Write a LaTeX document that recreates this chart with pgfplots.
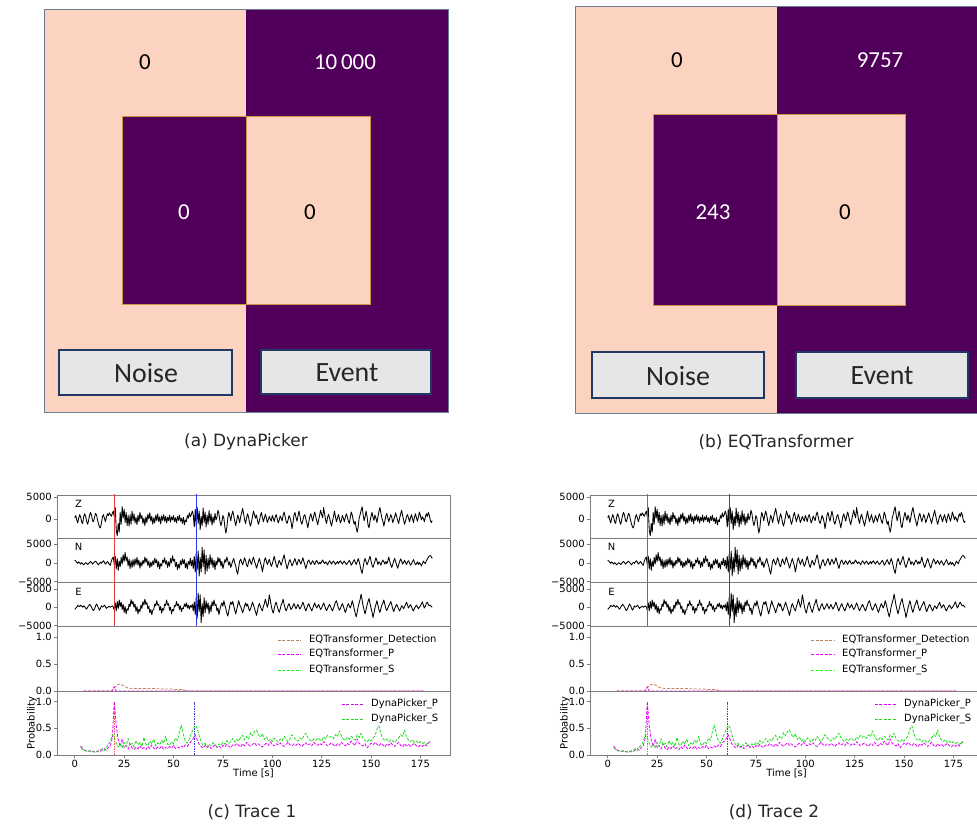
\documentclass[border=0pt]{standalone}
\usepackage{pgfplots}
\pgfplotsset{compat=1.18}
\usepackage{pgfplotstable}
\usepackage{fontspec}
\setmainfont{DejaVu Sans}
\newfontfamily\calibri{Carlito}
% always emit stroke / fill colours (no "already set" shortcut)
\makeatletter
\let\orig@pgfsetstrokecolor\pgfsetstrokecolor
\def\pgfsetstrokecolor#1{\global\let\pgf@strokecolor@global\relax\orig@pgfsetstrokecolor{#1}}
\let\orig@pgfsetfillcolor\pgfsetfillcolor
\def\pgfsetfillcolor#1{\global\let\pgf@fillcolor@global\relax\orig@pgfsetfillcolor{#1}}
\makeatother
\definecolor{cmpink}{RGB}{252,211,193}
\definecolor{cmpurple}{RGB}{80,0,90}
\definecolor{btnfill}{RGB}{231,230,230}
\definecolor{btnedge}{RGB}{31,56,100}
\definecolor{inedge}{RGB}{205,150,70}
\definecolor{outedge}{RGB}{110,125,150}
\definecolor{spine}{RGB}{125,125,125}

% Z component (x 1000 counts), t = 0, 0.5, ..., 181 s
\pgfplotstableread[header=false,row sep=\\]{
0.3\\0.8\\-0.2\\-0.9\\0.2\\1.0\\0.4\\-0.7\\-1.0\\0.5\\
1.2\\0.6\\-0.5\\-1.2\\-0.3\\0.9\\1.5\\0.8\\-0.4\\-0.6\\
0.4\\1.3\\0.9\\-0.2\\-1.1\\-1.8\\-2.0\\-0.9\\0.5\\1.0\\
0.2\\-0.6\\0.3\\1.2\\0.8\\1.4\\1.0\\0.6\\1.3\\1.8\\
0.5\\2.6\\-2.5\\-3.8\\-1.0\\-3.0\\1.5\\-1.2\\2.8\\0.2\\
2.2\\-0.8\\1.5\\-1.5\\0.8\\-1.6\\1.0\\-1.2\\1.8\\-0.4\\
1.2\\-0.9\\0.4\\-1.3\\0.9\\-0.6\\1.5\\0.1\\0.8\\-1.0\\
0.2\\-1.5\\0.5\\-0.8\\1.1\\0.0\\1.4\\-0.5\\0.6\\-1.2\\
0.3\\-0.9\\0.9\\-0.4\\1.2\\-0.6\\0.5\\-1.1\\0.7\\-0.3\\
1.0\\-0.5\\0.6\\-0.9\\0.4\\-0.4\\0.9\\-0.7\\0.5\\-0.2\\
0.8\\-0.6\\0.3\\-0.9\\0.6\\-0.3\\0.9\\-0.5\\0.2\\-1.0\\
0.4\\-1.3\\-0.2\\-0.6\\0.8\\0.2\\1.4\\0.5\\1.0\\1.8\\
1.0\\-1.8\\2.2\\-1.6\\2.6\\-1.0\\1.8\\-2.4\\0.6\\-1.5\\
2.5\\-0.8\\1.6\\-1.8\\0.9\\-1.2\\1.9\\-0.6\\1.2\\-1.4\\
0.5\\-0.9\\1.3\\-0.2\\0.4\\2.0\\1.2\\-0.5\\-1.5\\-0.6\\
0.8\\0.2\\-1.8\\-3.2\\-2.0\\0.3\\1.5\\0.6\\-0.4\\1.0\\
1.8\\0.8\\-0.5\\-1.5\\-0.4\\0.9\\0.2\\-0.8\\0.5\\1.4\\
2.4\\1.2\\-0.2\\-1.0\\0.3\\1.2\\0.4\\-0.9\\-1.6\\-0.6\\
0.6\\1.8\\1.0\\0.2\\0.9\\-0.3\\-1.2\\-0.4\\0.8\\1.5\\
0.4\\-0.6\\0.2\\1.1\\0.3\\-0.8\\-0.2\\0.6\\0.0\\-0.5\\
0.8\\0.2\\-0.6\\0.5\\1.0\\0.1\\-0.9\\-0.3\\0.7\\0.2\\
-0.4\\0.9\\1.6\\0.6\\-0.5\\-1.0\\-0.2\\0.8\\0.3\\-0.6\\
-2.2\\-0.8\\0.9\\1.5\\0.4\\-0.5\\0.6\\1.8\\0.8\\-0.6\\
-1.2\\-0.3\\0.7\\1.0\\0.0\\-0.9\\-2.0\\-0.7\\0.5\\1.2\\
0.3\\-0.5\\0.8\\1.6\\0.6\\-0.4\\-1.3\\-0.2\\0.9\\2.0\\
1.0\\0.3\\2.6\\1.2\\-0.2\\-1.0\\0.4\\1.1\\0.2\\-0.7\\
-1.6\\-0.5\\0.6\\1.8\\0.5\\-0.6\\0.2\\1.0\\0.1\\-0.9\\
-0.3\\0.8\\0.2\\-0.6\\0.4\\1.2\\0.5\\-0.4\\-1.0\\0.3\\
1.6\\0.9\\-0.3\\-1.2\\-0.5\\-2.0\\-3.0\\-1.8\\0.2\\1.0\\
2.0\\2.8\\1.0\\-0.4\\0.5\\1.8\\0.6\\-1.4\\-2.0\\-0.5\\
0.6\\1.5\\0.4\\-0.3\\0.9\\0.2\\-0.8\\0.5\\1.7\\2.6\\
1.4\\0.2\\-0.5\\-1.6\\-0.5\\0.7\\1.3\\0.3\\-0.6\\0.2\\
1.0\\0.4\\-0.8\\-0.2\\0.6\\1.4\\0.5\\-0.3\\-1.0\\0.2\\
1.1\\2.0\\0.8\\-0.2\\-1.2\\-0.4\\0.6\\1.0\\0.2\\-0.6\\
0.3\\1.0\\0.1\\-0.8\\0.4\\1.2\\0.3\\-0.5\\0.4\\1.6\\
0.8\\-0.2\\0.5\\0.1\\-0.6\\0.4\\1.2\\0.6\\1.5\\0.9\\
-0.2\\-0.8\\-0.4\\
}\Zdat

% N component
\pgfplotstableread[header=false,row sep=\\]{
0.8\\0.5\\0.2\\-0.1\\0.3\\0.0\\-0.3\\0.1\\-0.2\\-0.5\\
-0.2\\0.1\\-0.1\\-0.4\\-0.2\\0.2\\0.4\\0.1\\-0.3\\0.0\\
0.3\\0.5\\0.2\\-0.2\\-0.5\\-0.1\\0.2\\-0.1\\0.3\\0.6\\
0.2\\-0.3\\0.0\\0.4\\0.1\\-0.4\\-0.6\\0.5\\1.2\\1.6\\
-0.5\\1.8\\-1.6\\1.2\\-2.0\\0.5\\-1.0\\1.5\\-0.3\\2.2\\
0.4\\2.8\\0.6\\1.6\\-0.8\\1.0\\-1.5\\0.6\\-1.2\\0.9\\
-0.9\\1.1\\-0.4\\1.5\\-0.6\\0.8\\-1.4\\0.3\\-0.8\\0.7\\
-0.2\\1.6\\0.2\\1.2\\-0.7\\0.5\\-1.3\\0.2\\-0.9\\0.6\\
-0.5\\1.3\\0.0\\0.9\\-1.1\\0.4\\-1.6\\-0.2\\-0.8\\0.8\\
0.1\\1.4\\-0.3\\0.6\\-1.2\\0.3\\-0.9\\1.2\\0.0\\1.9\\
0.5\\1.0\\-1.0\\0.2\\-1.8\\-0.3\\-1.4\\0.6\\-0.5\\1.1\\
-0.2\\0.9\\-1.3\\0.0\\-1.6\\0.4\\-0.4\\1.3\\-0.8\\0.8\\
-1.5\\1.8\\-2.5\\2.6\\-1.8\\3.2\\-3.5\\1.5\\-2.4\\4.2\\
-1.0\\3.5\\-3.0\\2.0\\-2.2\\1.2\\-1.5\\2.2\\-0.5\\1.4\\
-1.2\\0.8\\-1.8\\0.5\\-0.6\\1.5\\0.2\\1.2\\-0.8\\0.4\\
-1.5\\-0.4\\0.9\\0.2\\1.6\\0.6\\-0.6\\0.3\\-1.2\\-0.3\\
0.6\\1.2\\0.0\\-0.8\\-2.2\\-3.0\\-1.2\\0.5\\1.0\\0.2\\
-0.5\\0.4\\1.4\\0.6\\-0.6\\-1.0\\0.3\\1.1\\0.2\\-0.4\\
0.8\\1.6\\0.4\\-0.3\\-1.4\\-0.6\\0.5\\1.2\\0.1\\-0.8\\
-2.4\\-1.0\\0.6\\1.4\\0.5\\-0.4\\0.3\\1.0\\0.0\\-0.9\\
-0.3\\0.8\\1.8\\0.6\\-0.5\\-1.2\\-0.2\\0.7\\0.1\\-0.6\\
0.3\\1.3\\2.2\\0.9\\-0.4\\-1.6\\-0.6\\0.4\\0.9\\0.0\\
-0.8\\-0.2\\0.6\\1.2\\0.2\\-0.6\\0.4\\1.0\\0.3\\-0.3\\
0.5\\1.4\\0.4\\-0.5\\-1.5\\-0.5\\0.4\\0.8\\0.1\\-0.4\\
0.2\\0.6\\0.0\\-0.4\\0.3\\0.7\\0.1\\-0.3\\0.2\\-0.2\\
0.4\\0.8\\0.2\\-0.2\\0.3\\0.0\\-0.5\\0.1\\0.6\\0.2\\
-0.3\\0.2\\0.5\\0.1\\-0.4\\0.0\\0.4\\-0.2\\0.3\\0.6\\
0.1\\-0.3\\0.2\\0.5\\0.0\\-0.4\\-0.1\\0.3\\0.7\\0.2\\
-0.6\\-0.2\\0.4\\0.9\\0.2\\-0.4\\0.3\\1.2\\0.4\\-0.8\\
-2.0\\-2.8\\-1.2\\0.4\\1.2\\0.3\\-0.5\\0.2\\1.0\\1.8\\
0.6\\-0.6\\-1.2\\-0.3\\0.5\\1.4\\0.6\\-0.4\\0.3\\0.0\\
-0.6\\0.2\\0.8\\0.3\\-0.3\\0.4\\-0.2\\0.5\\1.6\\0.4\\
-0.5\\-1.2\\-0.4\\0.6\\1.2\\0.3\\-0.6\\-1.4\\-0.5\\0.4\\
1.1\\0.5\\-0.3\\0.2\\0.7\\0.1\\-0.4\\0.3\\0.6\\0.0\\
-0.6\\-0.2\\0.4\\0.9\\0.2\\-0.5\\-0.2\\0.3\\-0.4\\0.1\\
-0.3\\-0.8\\-0.2\\0.5\\0.1\\-0.2\\0.6\\1.0\\1.5\\1.9\\
2.0\\1.7\\1.2\\
}\Ndat

% E component
\pgfplotstableread[header=false,row sep=\\]{
-0.6\\-0.2\\0.0\\0.5\\0.3\\0.2\\0.6\\0.3\\0.0\\0.4\\
0.2\\-0.2\\-0.5\\0.0\\0.4\\0.8\\0.5\\0.0\\-0.6\\-0.9\\
-0.4\\0.3\\0.9\\0.5\\-0.2\\-0.8\\-0.3\\0.4\\0.1\\0.2\\
0.6\\0.2\\-0.3\\0.0\\0.1\\0.3\\0.0\\0.2\\0.4\\0.1\\
-0.8\\1.2\\-1.0\\1.6\\-0.4\\2.0\\0.2\\1.4\\-0.6\\0.8\\
-1.4\\0.2\\-1.8\\-0.4\\-0.8\\0.9\\0.2\\2.1\\0.9\\1.6\\
0.0\\0.9\\-1.1\\0.2\\-1.8\\-0.5\\-1.2\\0.6\\-0.3\\1.5\\
0.6\\2.2\\0.8\\1.3\\-0.4\\0.3\\-1.5\\-0.6\\-2.0\\-0.8\\
-0.6\\0.9\\0.4\\1.8\\0.6\\0.8\\-0.8\\0.2\\-1.6\\-0.3\\
-0.8\\0.8\\0.5\\2.0\\0.6\\1.0\\-0.8\\0.0\\-1.8\\-0.6\\
-1.0\\0.5\\0.3\\1.6\\0.4\\0.9\\-0.6\\0.4\\-1.2\\-0.2\\
-0.4\\0.9\\0.2\\1.2\\-0.2\\0.6\\-0.5\\0.5\\0.0\\0.8\\
-1.0\\1.5\\-2.0\\2.8\\-3.0\\3.8\\-1.2\\3.4\\-4.2\\1.0\\
-2.5\\2.6\\-1.5\\1.8\\-0.5\\1.2\\-1.8\\0.6\\-1.2\\1.5\\
0.4\\2.0\\0.5\\0.8\\-1.0\\-0.2\\-2.0\\-0.6\\0.5\\1.2\\
0.3\\1.8\\0.6\\-0.4\\-1.6\\-2.4\\-1.0\\0.5\\1.4\\0.8\\
1.6\\0.4\\-0.8\\-1.8\\-0.6\\0.6\\1.8\\0.7\\0.2\\-0.6\\
-1.5\\-0.6\\0.4\\1.2\\0.3\\0.9\\-0.2\\-1.0\\-0.4\\0.5\\
1.4\\0.6\\-0.3\\-1.2\\-2.2\\-1.0\\0.4\\1.0\\0.2\\-0.5\\
-1.0\\0.2\\1.0\\2.2\\1.2\\0.0\\1.0\\3.4\\2.0\\0.4\\
-0.8\\-1.6\\-0.4\\0.8\\1.4\\0.3\\-0.6\\-1.4\\-0.5\\0.6\\
1.2\\2.2\\0.8\\-0.2\\-1.0\\-0.3\\0.5\\1.0\\0.2\\-0.6\\
-0.2\\0.4\\1.0\\0.3\\-0.4\\0.2\\0.8\\0.1\\-0.5\\0.0\\
0.6\\1.4\\0.6\\-0.3\\-1.0\\-0.2\\0.5\\1.0\\0.2\\-0.4\\
-1.0\\-0.3\\0.5\\1.2\\0.4\\-0.2\\0.3\\0.8\\0.0\\-0.6\\
-0.2\\0.5\\1.2\\0.5\\-0.4\\-0.9\\-0.3\\0.3\\0.8\\0.2\\
-0.5\\-1.0\\-0.2\\0.6\\1.4\\1.8\\0.8\\-0.2\\-0.8\\-0.3\\
0.4\\1.0\\0.3\\-0.6\\-1.4\\-0.6\\0.3\\1.0\\0.4\\-0.2\\
0.6\\1.8\\0.8\\-0.4\\-1.6\\-2.6\\-1.4\\0.2\\1.2\\2.2\\
3.6\\2.0\\0.4\\-0.8\\-1.8\\-0.6\\0.6\\1.6\\2.4\\1.0\\
-0.2\\-1.2\\-2.8\\-1.6\\-0.2\\0.8\\1.8\\0.6\\-0.6\\-1.4\\
-0.4\\0.6\\1.2\\2.0\\0.8\\-0.3\\-0.9\\-0.2\\0.4\\0.9\\
1.6\\0.7\\-0.4\\-1.2\\-0.4\\0.3\\0.8\\0.2\\-0.5\\-1.0\\
-0.3\\0.4\\0.1\\-0.4\\0.2\\0.8\\1.4\\0.6\\-0.2\\0.3\\
0.7\\0.2\\-0.6\\-1.0\\-0.3\\0.2\\0.6\\0.1\\-0.4\\0.0\\
0.4\\0.9\\1.5\\0.6\\-0.2\\0.3\\1.0\\1.4\\0.8\\0.4\\
0.6\\0.2\\0.0\\
}\Edat

% DynaPicker P probability, t = 3, 4, ..., 180 s
\pgfplotstableread[header=false,row sep=\\]{
0.17\\0.12\\0.09\\0.08\\0.07\\0.08\\0.06\\0.07\\0.06\\0.08\\
0.07\\0.10\\0.12\\0.09\\0.14\\0.18\\0.32\\1.00\\0.55\\0.28\\
0.16\\0.30\\0.14\\0.18\\0.11\\0.21\\0.13\\0.10\\0.15\\0.12\\
0.17\\0.11\\0.14\\0.10\\0.16\\0.12\\0.19\\0.13\\0.11\\0.15\\
0.12\\0.17\\0.11\\0.14\\0.12\\0.16\\0.13\\0.18\\0.12\\0.15\\
0.13\\0.17\\0.14\\0.19\\0.16\\0.22\\0.26\\0.31\\0.38\\0.28\\
0.20\\0.16\\0.13\\0.18\\0.14\\0.17\\0.12\\0.16\\0.19\\0.14\\
0.17\\0.13\\0.18\\0.15\\0.20\\0.16\\0.14\\0.19\\0.17\\0.22\\
0.18\\0.15\\0.21\\0.17\\0.24\\0.19\\0.16\\0.20\\0.23\\0.18\\
0.21\\0.17\\0.15\\0.19\\0.22\\0.18\\0.25\\0.20\\0.17\\0.21\\
0.19\\0.23\\0.18\\0.16\\0.20\\0.24\\0.19\\0.17\\0.21\\0.18\\
0.22\\0.19\\0.16\\0.20\\0.23\\0.18\\0.21\\0.17\\0.24\\0.20\\
0.18\\0.22\\0.19\\0.25\\0.21\\0.17\\0.20\\0.23\\0.19\\0.16\\
0.21\\0.18\\0.24\\0.20\\0.17\\0.22\\0.19\\0.26\\0.21\\0.18\\
0.30\\0.22\\0.19\\0.17\\0.21\\0.13\\0.18\\0.22\\0.19\\0.24\\
0.20\\0.17\\0.22\\0.19\\0.15\\0.21\\0.18\\0.23\\0.19\\0.16\\
0.20\\0.24\\0.18\\0.15\\0.21\\0.17\\0.20\\0.16\\0.19\\0.22\\
0.17\\0.15\\0.19\\0.16\\0.20\\0.17\\0.22\\0.27\\
}\DPdat

% DynaPicker S probability, t = 3, 4, ..., 180 s
\pgfplotstableread[header=false,row sep=\\]{
0.14\\0.10\\0.08\\0.07\\0.08\\0.06\\0.07\\0.05\\0.07\\0.06\\
0.09\\0.12\\0.08\\0.15\\0.19\\0.26\\0.38\\0.33\\0.22\\0.15\\
0.20\\0.13\\0.24\\0.16\\0.31\\0.18\\0.22\\0.15\\0.27\\0.19\\
0.24\\0.16\\0.33\\0.20\\0.18\\0.26\\0.21\\0.30\\0.17\\0.23\\
0.19\\0.28\\0.22\\0.35\\0.20\\0.18\\0.25\\0.21\\0.32\\0.27\\
0.45\\0.56\\0.38\\0.26\\0.22\\0.30\\0.40\\0.48\\0.56\\0.50\\
0.36\\0.25\\0.18\\0.22\\0.15\\0.20\\0.17\\0.23\\0.19\\0.16\\
0.21\\0.18\\0.24\\0.20\\0.27\\0.22\\0.25\\0.31\\0.24\\0.29\\
0.26\\0.33\\0.37\\0.28\\0.35\\0.30\\0.42\\0.36\\0.44\\0.47\\
0.38\\0.33\\0.40\\0.29\\0.34\\0.26\\0.30\\0.25\\0.32\\0.28\\
0.24\\0.30\\0.27\\0.35\\0.29\\0.25\\0.31\\0.38\\0.33\\0.28\\
0.26\\0.32\\0.29\\0.36\\0.41\\0.33\\0.28\\0.25\\0.30\\0.27\\
0.32\\0.29\\0.26\\0.34\\0.30\\0.37\\0.33\\0.35\\0.31\\0.38\\
0.34\\0.45\\0.36\\0.30\\0.27\\0.33\\0.29\\0.35\\0.31\\0.28\\
0.38\\0.33\\0.41\\0.30\\0.27\\0.24\\0.29\\0.26\\0.31\\0.36\\
0.48\\0.55\\0.40\\0.31\\0.27\\0.30\\0.25\\0.29\\0.26\\0.23\\
0.28\\0.32\\0.38\\0.35\\0.47\\0.34\\0.28\\0.25\\0.29\\0.23\\
0.26\\0.22\\0.25\\0.21\\0.24\\0.20\\0.22\\0.25\\
}\DSdat

\newcommand{\tf}{\fontsize{10}{12}\selectfont}
\tikzset{lgt/.style={anchor=west, font=\tf, inner sep=0pt}}

\pgfplotsset{
  trace/.style={
    scale only axis, width=393bp, xmin=-9, xmax=190,
    anchor=south west, no markers,
    axis line style={spine, line width=0.7bp},
    tick style={spine, line width=0.6bp},
    tick align=outside, major tick length=3.5bp, tick pos=left,
    xtick=\empty,
    yticklabel style={font=\tf, inner sep=1.5bp},
    xticklabel style={font=\tf, inner sep=1.5bp},
    every axis plot/.append style={line join=round},
  },
  wave/.style={draw=black, line width=0.85bp},
  pk/.style={line width=1.1bp},
  prob/.style={ymin=0, ymax=1.2, ytick={0,0.5,1}, yticklabels={0.0,0.5,1.0}, clip=false},
  dsh/.style={line width=0.8bp, dash pattern=on 3bp off 1.5bp},
  dot/.style={line width=0.8bp, dash pattern=on 1.5bp off 1bp},
}

% #1 = x position of the panel, #2 = digit making the panel's colours unique
\newcommand{\ampax}[2]{%
\begin{axis}[trace, at={(#1bp,290bp)}, height=43bp, ymin=-4300, ymax=5450,
  ytick={0,5000}, yticklabels={0,5000}]
  \addplot[wave] table[x index=0, y index=0, x expr=\coordindex*0.5, y expr=\thisrowno{0}*1000] {\Zdat};
  \addplot[pk, draw={rgb,255:red,24#2;green,60;blue,60}] coordinates {(20,-9000) (20,9000)};
  \addplot[pk, draw={rgb,255:red,40;green,60;blue,25#2}] coordinates {(61.5,-9000) (61.5,9000)};
  \node[font=\tf] at (rel axis cs:0.055,0.8) {Z};
\end{axis}
\begin{axis}[trace, at={(#1bp,246bp)}, height=44bp, ymin=-5100, ymax=6700,
  ytick={-5000,0,5000}, yticklabels={−5000,0,5000}]
  \addplot[wave] table[x index=0, y index=0, x expr=\coordindex*0.5, y expr=\thisrowno{0}*1000] {\Ndat};
  \addplot[pk, draw={rgb,255:red,23#2;green,60;blue,60}] coordinates {(20,-9000) (20,9000)};
  \addplot[pk, draw={rgb,255:red,40;green,60;blue,24#2}] coordinates {(61.5,-9000) (61.5,9000)};
  \node[font=\tf] at (rel axis cs:0.055,0.8) {N};
  \node[font=\tf, rotate=90] at (rel axis cs:-0.109,0.43) {Amplitude};
\end{axis}
\begin{axis}[trace, at={(#1bp,202bp)}, height=44bp, ymin=-5100, ymax=6900,
  ytick={-5000,0,5000}, yticklabels={−5000,0,5000}]
  \addplot[wave] table[x index=0, y index=0, x expr=\coordindex*0.5, y expr=\thisrowno{0}*1000] {\Edat};
  \addplot[pk, draw={rgb,255:red,22#2;green,60;blue,60}] coordinates {(20,-9000) (20,9000)};
  \addplot[pk, draw={rgb,255:red,40;green,60;blue,23#2}] coordinates {(61.5,-9000) (61.5,9000)};
  \node[font=\tf] at (rel axis cs:0.055,0.77) {E};
\end{axis}}

\newcommand{\eqtax}[2]{%
\begin{axis}[trace, prob, at={(#1bp,137bp)}, height=65bp]
  \addplot[dsh, draw={rgb,255:red,19#2;green,130;blue,95}] coordinates {(4.5,0) (18,0) (19,0.01) (20,0.06) (21,0.10)
    (22,0.12) (23,0.13) (24,0.11) (25,0.09) (26,0.07) (27,0.055) (28,0.05) (30,0.045)
    (35,0.045) (40,0.045) (43,0.04) (46,0.035) (48,0.04) (50,0.03) (53,0.025)
    (55,0.025) (56,0.01) (57,0) (176.5,0)};
  \addplot[dsh, draw={rgb,255:red,25#2;green,0;blue,255}] coordinates {(4.5,0) (19,0) (19.5,0.04) (20,0.08) (20.5,0.04) (21,0) (176.5,0)};
  \addplot[dsh, draw={rgb,255:red,30;green,23#2;blue,30}] coordinates {(4.5,0) (176.5,0)};
  % legend
  \addplot[dsh, draw={rgb,255:red,18#2;green,130;blue,95}] coordinates {(102.9,0.942) (114.6,0.942)};
  \addplot[dsh, draw={rgb,255:red,24#2;green,0;blue,255}] coordinates {(102.9,0.683) (114.6,0.683)};
  \addplot[dsh, draw={rgb,255:red,30;green,24#2;blue,30}] coordinates {(102.9,0.388) (114.6,0.388)};
  \node[lgt] at (axis cs:118.6,0.942) {EQTransformer\_Detection};
  \node[lgt] at (axis cs:118.6,0.683) {EQTransformer\_P};
  \node[lgt] at (axis cs:118.6,0.388) {EQTransformer\_S};
\end{axis}}

% pick markers and legend of the DynaPicker subplot (drawn before its data)
\newcommand{\dynadeco}[2]{%
\begin{axis}[trace, prob, hide axis, at={(#1bp,73bp)}, height=64bp]
  \addplot[dot, draw={rgb,255:red,25#2;green,90;blue,90}] coordinates {(20,0) (20,1)};
  \addplot[dot, draw={rgb,255:red,60;green,60;blue,22#2}] coordinates {(60.5,0) (60.5,1)};
  \addplot[dsh, draw={rgb,255:red,22#2;green,0;blue,255}] coordinates {(135.3,0.956) (145.9,0.956)};
  \addplot[dsh, draw={rgb,255:red,30;green,21#2;blue,30}] coordinates {(135.3,0.675) (145.9,0.675)};
  \node[lgt] at (axis cs:150,0.956) {DynaPicker\_P};
  \node[lgt] at (axis cs:150,0.675) {DynaPicker\_S};
\end{axis}}

\newcommand{\dynadata}[2]{%
\begin{axis}[trace, prob, at={(#1bp,73bp)}, height=64bp,
  xtick={0,25,50,75,100,125,150,175}, xticklabels={0,25,50,75,100,125,150,175}]
  \addplot[dsh, draw={rgb,255:red,23#2;green,0;blue,255}] table[x index=0, y index=0, x expr=\coordindex+3] {\DPdat};
  \addplot[dsh, draw={rgb,255:red,30;green,22#2;blue,30}] table[x index=0, y index=0, x expr=\coordindex+3] {\DSdat};
  \node[font=\tf, rotate=90] at (rel axis cs:-0.064,0.5) {Probability};
  \node[font=\tf] at (rel axis cs:0.5,-0.28) {Time [s]};
\end{axis}}

\begin{document}
\begin{tikzpicture}[x=1bp,y=1bp]
\path[use as bounding box] (0,0) rectangle (977,828);
\begin{axis}[at={(0bp,0bp)}, anchor=south west, scale only axis, width=977bp, height=828bp,
  xmin=0, xmax=977, ymin=0, ymax=828, y dir=reverse, hide axis, clip=false, no markers]
  % panel (a)
  \addplot[fill=cmpink, draw=none] coordinates {(44,9) (246,9) (246,412) (44,412)} -- cycle;
  \addplot[fill=cmpurple, draw=none] coordinates {(246,9) (448,9) (448,412) (246,412)} -- cycle;
  \addplot[draw=outedge, line width=0.9bp] coordinates {(44,9) (448,9) (448,412) (44,412)} -- cycle;
  \addplot[fill=cmpurple, draw=inedge, line width=0.8bp] coordinates {(122,116) (246,116) (246,304) (122,304)} -- cycle;
  \addplot[fill=cmpink, draw=inedge, line width=0.8bp] coordinates {(246,116) (370,116) (370,304) (246,304)} -- cycle;
  \addplot[fill=btnfill, draw=btnedge, line width=2.8bp] coordinates {(59,350) (232,350) (232,395) (59,395)} -- cycle;
  \addplot[fill=btnfill, draw=btnedge, line width=2.8bp] coordinates {(261,350) (431,350) (431,394) (261,394)} -- cycle;
  \node[font=\calibri\fontsize{23}{27}\selectfont, text=black] at (axis cs:145,62) {0};
  \node[font=\calibri\fontsize{23}{27}\selectfont, text=white] at (axis cs:345,62) {10\,000};
  \node[font=\calibri\fontsize{23}{27}\selectfont, text=white] at (axis cs:184,212) {0};
  \node[font=\calibri\fontsize{23}{27}\selectfont, text=black] at (axis cs:310,212) {0};
  \node[font=\calibri\fontsize{28}{32}\selectfont, text=black!85] at (axis cs:146,373) {Noise};
  \node[font=\calibri\fontsize{28}{32}\selectfont, text=black!85] at (axis cs:347,373) {Event};
  % panel (b)
  \addplot[fill=cmpink, draw=none] coordinates {(575,6) (777,6) (777,413) (575,413)} -- cycle;
  \addplot[fill=cmpurple, draw=none] coordinates {(777,6) (985,6) (985,413) (777,413)} -- cycle;
  \addplot[draw=outedge, line width=0.9bp] coordinates {(985,6) (575,6) (575,413) (985,413)};
  \addplot[fill=cmpurple, draw=inedge, line width=0.8bp] coordinates {(653,114) (777,114) (777,305) (653,305)} -- cycle;
  \addplot[fill=cmpink, draw=inedge, line width=0.8bp] coordinates {(777,114) (905,114) (905,305) (777,305)} -- cycle;
  \addplot[fill=btnfill, draw=btnedge, line width=2.8bp] coordinates {(592,352) (764,352) (764,398) (592,398)} -- cycle;
  \addplot[fill=btnfill, draw=btnedge, line width=2.8bp] coordinates {(796,352) (968,352) (968,398) (796,398)} -- cycle;
  \node[font=\calibri\fontsize{23}{27}\selectfont, text=black] at (axis cs:677,60) {0};
  \node[font=\calibri\fontsize{23}{27}\selectfont, text=white] at (axis cs:880,60) {9757};
  \node[font=\calibri\fontsize{23}{27}\selectfont, text=white] at (axis cs:713,212) {243};
  \node[font=\calibri\fontsize{23}{27}\selectfont, text=black] at (axis cs:845,212) {0};
  \node[font=\calibri\fontsize{28}{32}\selectfont, text=black!85] at (axis cs:678,376) {Noise};
  \node[font=\calibri\fontsize{28}{32}\selectfont, text=black!85] at (axis cs:882,376) {Event};
  % captions
  \node[font=\fontsize{17}{20}\selectfont, text=black!85] at (axis cs:246,442) {(a) DynaPicker};
  \node[font=\fontsize{17}{20}\selectfont, text=black!85] at (axis cs:776,442) {(b) EQTransformer};
  \node[font=\fontsize{17}{20}\selectfont, text=black!85] at (axis cs:252,812) {(c) Trace 1};
  \node[font=\fontsize{17}{20}\selectfont, text=black!85] at (axis cs:774,812) {(d) Trace 2};
\end{axis}
\ampax{57}{0}
\ampax{590}{5}
\dynadeco{57}{0}
\dynadeco{590}{5}
\eqtax{57}{0}
\eqtax{590}{5}
\dynadata{57}{0}
\dynadata{590}{5}
\end{tikzpicture}
\end{document}
